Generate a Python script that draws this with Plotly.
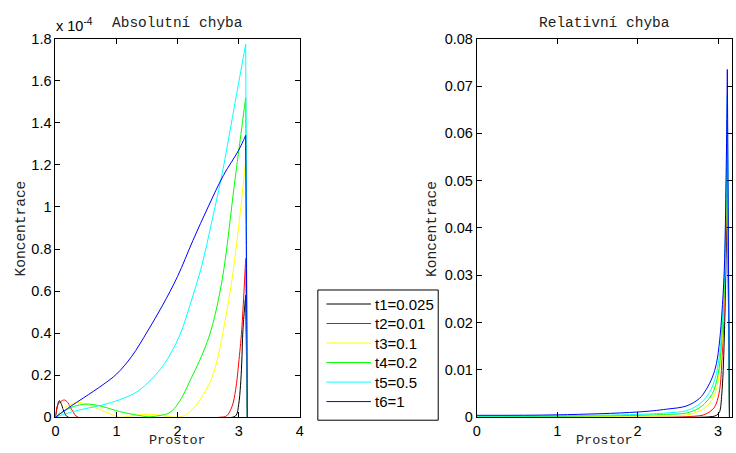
import numpy as np
import plotly.graph_objects as go

W, H = 736, 453
PI = 3.14159

labels = ["t1=0.025", "t2=0.01", "t3=0.1", "t4=0.2", "t5=0.5", "t6=1"]
colors = ["#000000", "#ff0000", "#ffff00", "#00ff00", "#00ffff", "#0000ff"]

# ---- Absolute error (units of 1e-4); peak value listed twice to keep a sharp corner ----
abs_x_t1 = [0, 0.03, 0.065, 0.1, 0.15, 0.21, 2.9, 2.96, 3.0, 3.03, 3.05, 3.07, 3.115, 3.115, PI]
abs_y_t1 = [0, 0.05, 0.079, 0.06, 0.02, 0, 0, 0.01, 0.06, 0.15, 0.257, 0.416, 0.58, 0.58, 0]

abs_x_t2 = [0, 0.04, 0.09, 0.146, 0.2, 0.28, 0.37, 2.7, 2.8, 2.89, 2.95, 3.0, 3.05, 3.115, 3.115, PI]
abs_y_t2 = [0, 0.059, 0.075, 0.082, 0.07, 0.03, 0.0, 0.0, 0.006, 0.05, 0.13, 0.257, 0.416, 0.755, 0.755, 0]

abs_x_t3 = [0, 0.15, 0.35, 0.5, 0.67, 0.94, 1.05, 1.2, 1.38, 1.5, 1.65, 1.8, 1.97, 2.08, 2.2, 2.3,
            2.4, 2.52, 2.62, 2.75, 2.89, 3.0, 3.115, 3.115, PI]
abs_y_t3 = [0, 0.045, 0.07, 0.063, 0.043, 0.011, 0.0, 0.004, 0.012, 0.014, 0.012, 0.006, 0.0, 0.004,
            0.025, 0.055, 0.098, 0.16, 0.24, 0.416, 0.654, 0.908, 1.22, 1.22, 0]

abs_x_t4 = [0, 0.13, 0.29, 0.49, 0.62, 0.78, 1.05, 1.32, 1.54, 1.7, 1.86, 1.97, 2.1, 2.21, 2.29,
            2.42, 2.55, 2.73, 2.94, 3.115, 3.115, PI]
abs_y_t4 = [0, 0.027, 0.05, 0.062, 0.06, 0.05, 0.027, 0.011, 0.002, 0.008, 0.02, 0.05, 0.11, 0.178,
            0.225, 0.31, 0.416, 0.654, 1.13, 1.52, 1.52, 0]

abs_x_t5 = [0, 0.29, 0.78, 1.05, 1.32, 1.5, 1.75, 1.9, 2.05, 2.2, 2.4, 2.56, 2.73, 2.9, 3.115, 3.115, PI]
abs_y_t5 = [0, 0.027, 0.059, 0.083, 0.118, 0.16, 0.24, 0.31, 0.4, 0.53, 0.725, 0.93, 1.16, 1.43,
            1.775, 1.775, 0]

abs_x_t6 = [0, 0.24, 0.46, 0.78, 1.0, 1.25, 1.51, 1.75, 2.0, 2.25, 2.5, 2.75, 3.0, 3.115, 3.115, PI]
abs_y_t6 = [0, 0.05, 0.092, 0.155, 0.205, 0.29, 0.41, 0.53, 0.67, 0.84, 1.0, 1.15, 1.27, 1.34, 1.34, 0]

# ---- Relative error ----
rel_x_main = [0, 1.0, 2.0, 2.36, 2.61, 2.77, 2.85, 2.93, 2.98, 3.02, 3.05, 3.08, 3.115, 3.115, PI]
rel_y_t6 = [0.0004, 0.0005, 0.0011, 0.0017, 0.0024, 0.004, 0.0058, 0.0085, 0.0114, 0.0163, 0.0227,
            0.0326, 0.0735, 0.0735, 0]
rel_y_t5 = [0.0002, 0.0003, 0.0006, 0.0009, 0.0014, 0.0028, 0.0042, 0.0065, 0.0093, 0.0135, 0.02,
            0.031, 0.068, 0.068, 0]
rel_y_t4 = [0.0001, 0.0002, 0.0004, 0.0006, 0.0009, 0.002, 0.0032, 0.005, 0.0075, 0.0114, 0.018,
            0.029, 0.063, 0.063, 0]
rel_y_t3 = [0.0, 0.0001, 0.0002, 0.0003, 0.0005, 0.0013, 0.0022, 0.0038, 0.0061, 0.01, 0.016,
            0.028, 0.058, 0.058, 0]

rel_x_t2 = [0, 2.0, 2.5, 2.7, 2.8, 2.85, 2.9, 2.95, 2.98, 3.02, 3.05, 3.08, 3.115, 3.115, PI]
rel_y_t2 = [0, 0, 0.00005, 0.0002, 0.0004, 0.0007, 0.0012, 0.002, 0.003, 0.0058, 0.0128, 0.026,
            0.053, 0.053, 0]

rel_x_t1 = [0, 2.8, 2.9, 2.95, 2.98, 3.0, 3.02, 3.05, 3.08, 3.115, 3.115, PI]
rel_y_t1 = [0, 0, 0.0001, 0.0002, 0.0004, 0.0007, 0.0012, 0.0058, 0.0185, 0.05, 0.05, 0]

abs_series = [(abs_x_t1, abs_y_t1), (abs_x_t2, abs_y_t2), (abs_x_t3, abs_y_t3),
              (abs_x_t4, abs_y_t4), (abs_x_t5, abs_y_t5), (abs_x_t6, abs_y_t6)]
rel_series = [(rel_x_t1, rel_y_t1), (rel_x_t2, rel_y_t2), (rel_x_main, rel_y_t3),
              (rel_x_main, rel_y_t4), (rel_x_main, rel_y_t5), (rel_x_main, rel_y_t6)]

abs_yticks = [0, 0.2, 0.4, 0.6, 0.8, 1.0, 1.2, 1.4, 1.6, 1.8]
abs_yticktext = ["0", "0.2", "0.4", "0.6", "0.8", "1", "1.2", "1.4", "1.6", "1.8"]
rel_yticks = [0, 0.01, 0.02, 0.03, 0.04, 0.05, 0.06, 0.07, 0.08]
rel_yticktext = ["0", "0.01", "0.02", "0.03", "0.04", "0.05", "0.06", "0.07", "0.08"]

fig = go.Figure()
for (x, y), name, c in zip(abs_series, labels, colors):
    fig.add_trace(go.Scatter(x=x, y=y, mode="lines", name=name, showlegend=False,
                             line=dict(color=c, width=1, shape="spline", smoothing=1, simplify=False),
                             xaxis="x", yaxis="y"))
for (x, y), name, c in zip(rel_series, labels, colors):
    fig.add_trace(go.Scatter(x=x, y=y, mode="lines", name=name, showlegend=False,
                             line=dict(color=c, width=1, shape="spline", smoothing=1, simplify=False),
                             xaxis="x2", yaxis="y2"))

# helpers: target picture pixel -> paper fraction (the page shows the figure shifted/compressed vertically)
def px(v):
    return v / W

def py(v):
    return 1 - ((v - 7.8) / 0.963) / H

tickfont = dict(family="Liberation Sans, Arial, sans-serif", size=14.5, color="black")
ax_common = dict(showline=True, linecolor="black", linewidth=1, ticks="inside", mirror="ticks",
                 ticklen=5, tickcolor="black", showgrid=False, zeroline=False, tickfont=tickfont)
ydom = [py(416.3), py(38.5)]

fig.update_layout(
    width=W, height=H,
    margin=dict(l=0, r=0, t=0, b=0),
    paper_bgcolor="white", plot_bgcolor="white",
    showlegend=False,
    xaxis=dict(domain=[px(52), px(299)], range=[0, 4], tickvals=[0, 1, 2, 3, 4], anchor="y", **ax_common),
    yaxis=dict(domain=ydom, range=[0, 1.8], tickvals=abs_yticks, ticktext=abs_yticktext, anchor="x", **ax_common),
    xaxis2=dict(domain=[px(478), 1.0], range=[0, 3.173], tickvals=[0, 1, 2, 3], anchor="y2", **ax_common),
    yaxis2=dict(domain=ydom, range=[0, 0.08], tickvals=rel_yticks, ticktext=rel_yticktext, anchor="x2", **ax_common),
)

# legend box drawn in paper space
shapes = [dict(type="rect", xref="paper", yref="paper", x0=px(317.3), x1=px(439), y0=py(419.3), y1=py(289.3),
               line=dict(color="black", width=1), fillcolor="white", layer="above")]
legend_ann = []
for i, (name, c) in enumerate(zip(labels, colors)):
    yy = py(303.3 + i * 19.48)
    shapes.append(dict(type="line", xref="paper", yref="paper", x0=px(326), x1=px(371), y0=yy, y1=yy,
                       line=dict(color=c, width=1), layer="above"))
    legend_ann.append(dict(text=name, x=px(373.5), y=yy, xanchor="left", yanchor="middle",
                           font=dict(family="Liberation Sans, Arial, sans-serif", size=15, color="black")))
fig.update_layout(shapes=shapes)

mono = dict(family="Liberation Mono, Courier New, monospace", size=14.5, color="#222222")
mono_x = dict(family="Liberation Mono, Courier New, monospace", size=13.5, color="#222222")
ann = [
    dict(text="Absolutní chyba", x=px(175.5), y=py(23), xanchor="center", yanchor="middle", font=mono),
    dict(text="Relativní chyba", x=px(607.5), y=py(23), xanchor="center", yanchor="middle", font=mono),
    dict(text="Prostor", x=px(175.5), y=0, xanchor="center", yanchor="bottom", yshift=-5, font=mono_x),
    dict(text="Prostor", x=px(607), y=0, xanchor="center", yanchor="bottom", yshift=-5, font=mono_x),
    dict(text="Koncentrace", x=px(17), y=py(228), xanchor="center", yanchor="middle", textangle=-90, font=mono),
    dict(text="Koncentrace", x=px(432), y=py(228), xanchor="center", yanchor="middle", textangle=-90, font=mono),
    dict(text="x 10<sup>-4</sup>", x=px(51), y=py(25), xanchor="left", yanchor="middle",
         font=dict(family="Liberation Sans, Arial, sans-serif", size=14.5, color="black")),
] + legend_ann
for a in ann:
    a.update(xref="paper", yref="paper", showarrow=False)
fig.update_layout(annotations=ann)

fig.write_html("out.html")
